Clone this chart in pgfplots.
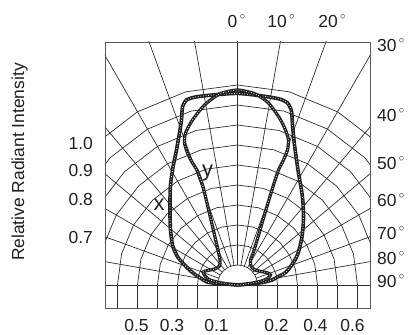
\documentclass[border=0pt]{standalone}
\usepackage{pgfplots}
\pgfplotsset{compat=1.18}
\usepackage{fontspec}
\setmainfont{Liberation Sans}
\newcommand{\dg}{\kern2.4bp\raisebox{0.45em}{\fontsize{10.5}{10.5}\selectfont$\circ$}}
\pgfplotstableread{
x y
0 0
-0.05 0.004
-0.10 0.0075
-0.1525 0.015
-0.185 0.035
-0.2225 0.06
-0.255 0.09
-0.2875 0.125
-0.305 0.15
-0.325 0.20
-0.335 0.275
-0.3375 0.35
-0.3375 0.425
-0.335 0.50
-0.3225 0.59
-0.305 0.675
-0.2875 0.775
-0.28 0.825
-0.275 0.89
-0.255 0.925
-0.21 0.94
-0.125 0.95
0 0.958
0.125 0.945
0.21 0.93
0.25 0.91
0.27 0.87
0.275 0.80
0.285 0.70
0.3025 0.575
0.32 0.475
0.3275 0.41
0.33 0.325
0.3225 0.24
0.305 0.165
0.2875 0.125
0.26 0.085
0.2375 0.06
0.20 0.04
0.1725 0.025
0.125 0.0125
0.06 0.005
0 0
}\curvex
\pgfplotstableread{
x y
0 0
-0.04 0.004
-0.09 0.0125
-0.1375 0.025
-0.16 0.0425
-0.1725 0.065
-0.15 0.0725
-0.115 0.08
-0.09 0.095
-0.0875 0.125
-0.0975 0.175
-0.1125 0.24
-0.1325 0.325
-0.1525 0.41
-0.175 0.50
-0.2025 0.575
-0.225 0.61
-0.25 0.66
-0.265 0.71
-0.26 0.76
-0.225 0.825
-0.165 0.90
-0.09 0.955
0 0.975
0.09 0.955
0.155 0.91
0.21 0.835
0.24 0.775
0.255 0.725
0.25 0.675
0.23 0.625
0.205 0.575
0.18 0.50
0.1525 0.41
0.1275 0.325
0.1025 0.24
0.08 0.165
0.065 0.125
0.0675 0.095
0.0875 0.075
0.12 0.0675
0.1525 0.06
0.165 0.05
0.15 0.0325
0.12 0.02
0.075 0.01
0.035 0.0035
0 0
}\curvey
\begin{document}
\begin{tikzpicture}[gridline/.style={draw=black!82, line width=0.7bp},
  lab/.style={inner sep=0pt, text=black!88, font=\fontsize{17.5}{17.5}\selectfont}]
% polar grid
\begin{scope}[x=200bp,y=200bp]
\clip (-0.6625,-0.115) rectangle (0.6625,1.215);
\draw[gridline] (-0.7,0) -- (0.7,0);
\foreach \p in {10,20,...,170} \draw[gridline] (\p:0.1) -- (\p:2);
\foreach \r in {0.1,0.2,0.3,0.4,0.5,0.6,0.7,0.8,0.9,1.0}
  \draw[gridline] (180:\r) -- (165:\r) -- (150:\r) -- (135:\r) -- (120:\r) -- (105:\r) -- (90:\r) -- (75:\r) -- (60:\r) -- (45:\r) -- (30:\r) -- (15:\r) -- (0:\r);
\foreach \r in {0.1,0.2,0.3,0.4,0.5,0.6}
  \draw[gridline] (\r,0) -- (\r,-0.2) (-\r,0) -- (-\r,-0.2);
\end{scope}
\begin{axis}[at={(-132.5bp,-23bp)}, anchor=south west,
  x=200bp, y=200bp,
  xmin=-0.6625, xmax=0.6625, ymin=-0.115, ymax=1.215,
  enlargelimits=false,
  axis line style={black!65, line width=0.9bp},
  xtick=\empty, ytick=\empty, clip=false]
\addplot[draw=black!88, line width=1.1bp, double=black!88, double distance=1.4bp, smooth, tension=0.4] table[x=x,y=y] {\curvex};
\addplot[draw=white, line width=0.8bp, dash pattern=on 0.8bp off 1.8bp, smooth, tension=0.4] table[x=x,y=y] {\curvex};
\addplot[draw=black!88, line width=3.2bp, smooth, tension=0.4] table[x=x,y=y] {\curvey};
\addplot[draw=white, line width=0.75bp, dash pattern=on 0.8bp off 1.8bp, smooth, tension=0.4] table[x=x,y=y] {\curvey};
\end{axis}
% labels
\node[lab, rotate=90] at (-218bp,123bp) {Relative Radiant Intensity};
\node[lab, anchor=east] at (-144.5bp,142bp) {1.0};
\node[lab, anchor=east] at (-144.5bp,115bp) {0.9};
\node[lab, anchor=east] at (-144.5bp,86bp) {0.8};
\node[lab, anchor=east] at (-144.5bp,48bp) {0.7};
\node[lab, anchor=base west] at (139.5bp,233.7bp) {30\dg};
\node[lab, anchor=base west] at (139.5bp,163.7bp) {40\dg};
\node[lab, anchor=base west] at (139.5bp,115.2bp) {50\dg};
\node[lab, anchor=base west] at (139.5bp,78.7bp) {60\dg};
\node[lab, anchor=base west] at (139.5bp,45.2bp) {70\dg};
\node[lab, anchor=base west] at (139.5bp,20.2bp) {80\dg};
\node[lab, anchor=base west] at (139.5bp,-2.8bp) {90\dg};
\node[lab, anchor=base] at (-1bp,257.7bp) {0\dg};
\node[lab, anchor=base] at (43.5bp,257.7bp) {10\dg};
\node[lab, anchor=base] at (94.5bp,257.7bp) {20\dg};
\node[lab, anchor=base] at (-101bp,-46.8bp) {0.5};
\node[lab, anchor=base] at (-65.5bp,-46.8bp) {0.3};
\node[lab, anchor=base] at (-21bp,-46.8bp) {0.1};
\node[lab, anchor=base] at (39bp,-46.8bp) {0.2};
\node[lab, anchor=base] at (78bp,-46.8bp) {0.4};
\node[lab, anchor=base] at (115bp,-46.8bp) {0.6};
\node[lab, font=\fontsize{22}{22}\selectfont] at (-78.5bp,80bp) {x};
\node[lab, font=\fontsize{22}{22}\selectfont] at (-30bp,112.5bp) {y};
\pgfresetboundingbox
\path (-237.5bp,-50bp) rectangle (170.5bp,285bp);
\end{tikzpicture}
\end{document}
